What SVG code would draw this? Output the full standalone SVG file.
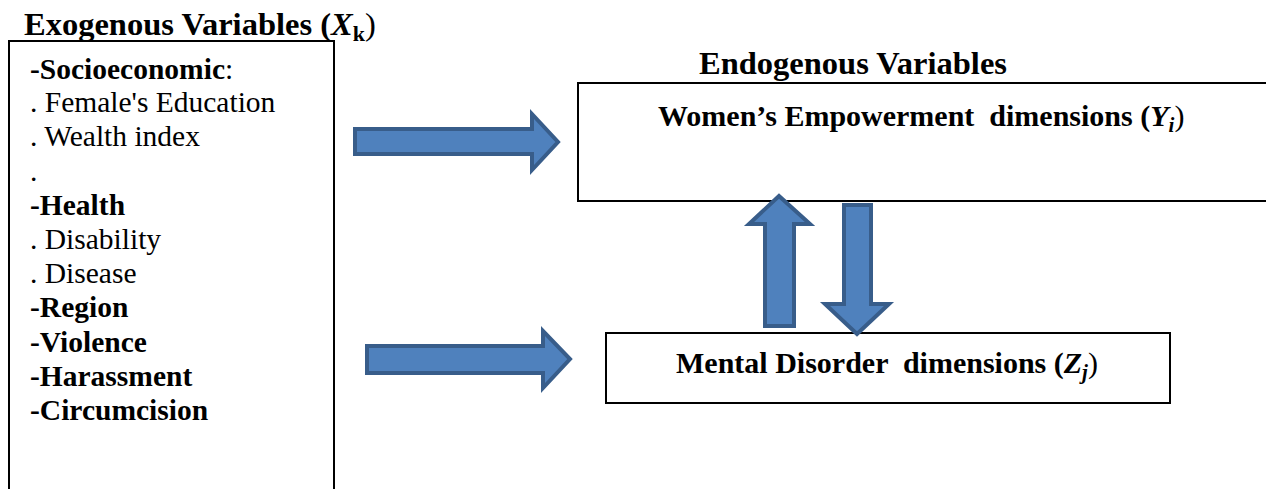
<svg xmlns="http://www.w3.org/2000/svg" width="1266" height="489" viewBox="0 0 1266 489">
<style>
.box{fill:#fff;stroke:#000;stroke-width:2}
.t{font-family:"Liberation Serif","Times New Roman",serif;font-size:29.5px;fill:#000;white-space:pre}
.b{font-weight:bold}
.h{font-family:"Liberation Serif","Times New Roman",serif;font-size:30px;font-weight:bold;fill:#000;white-space:pre}
.h2{font-size:32.5px}
.arr{fill:#4F81BD;stroke:#385D8A;stroke-width:4;stroke-linejoin:miter}
</style>
<rect width="1266" height="489" fill="#fff"/>
<g id="exogenous">
<rect class="box" x="9" y="41" width="325" height="460"/>
<text class="h h2" x="24" y="35">Exogenous Variables (<tspan font-style="italic">X</tspan><tspan font-size="22" dy="6">k</tspan><tspan dy="-6" font-weight="normal">)</tspan></text>
<text class="t" x="30" y="79"><tspan class="b">-Socioeconomic</tspan>:</text>
<text class="t" x="30" y="112">. Female's Education</text>
<text class="t" x="30" y="146">. Wealth index</text>
<text class="t" x="30" y="181">.</text>
<text class="t b" x="30" y="215">-Health</text>
<text class="t" x="30" y="249">. Disability</text>
<text class="t" x="30" y="283">. Disease</text>
<text class="t b" x="30" y="317">-Region</text>
<text class="t b" x="30" y="352">-Violence</text>
<text class="t b" x="30" y="386">-Harassment</text>
<text class="t b" x="30" y="420">-Circumcision</text>
</g>
<g id="endogenous-label">
<text class="h h2" x="699" y="74">Endogenous Variables</text>
</g>
<g id="womens-empowerment">
<rect class="box" x="578" y="83" width="700" height="118"/>
<text class="h" x="658" y="126">Women’s Empowerment  dimensions (<tspan font-style="italic">Y</tspan><tspan font-size="21" dy="6" font-style="italic">i</tspan><tspan dy="-6" font-weight="normal">)</tspan></text>
</g>
<g id="mental-disorder">
<rect class="box" x="606" y="333" width="564" height="70"/>
<text class="h" x="676" y="373">Mental Disorder  dimensions (<tspan font-style="italic">Z</tspan><tspan font-size="21" dy="6" font-style="italic">j</tspan><tspan dy="-6" font-weight="normal">)</tspan></text>
</g>
<g id="connectors">
<polygon class="arr" points="355,129 532,129 532,114 558,142 532,170 532,154 355,154"/>
<polygon class="arr" points="367,346 543,346 543,331 570,359 543,388 543,373 367,373"/>
<polygon class="arr" points="765,326 765,224 749,224 779,196 810,224 794,224 794,326"/>
<polygon class="arr" points="844,205 871,205 871,304 889,304 857,334 825,304 844,304"/>
</g>
</svg>
